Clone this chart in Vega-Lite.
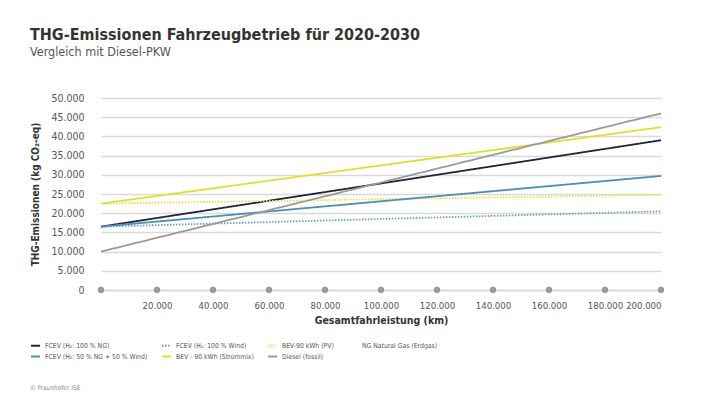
{
  "$schema": "https://vega.github.io/schema/vega-lite/v6.json",
  "width": 560,
  "height": 192,
  "autosize": {"type": "none"},
  "padding": {"left": 101, "top": 98, "right": 59, "bottom": 115},
  "background": "#ffffff",
  "title": {
    "text": "THG-Emissionen Fahrzeugbetrieb für 2020-2030",
    "subtitle": "Vergleich mit Diesel-PKW",
    "anchor": "start",
    "frame": "group",
    "dx": -71,
    "offset": 35,
    "font": "DejaVu Sans Condensed, Roboto, sans-serif",
    "fontSize": 16,
    "fontWeight": "bold",
    "color": "#333333",
    "subtitleFont": "DejaVu Sans Condensed, Roboto, sans-serif",
    "subtitleFontSize": 12.5,
    "subtitleColor": "#555555",
    "subtitlePadding": 3
  },
  "config": {
    "locale": {"number": {"decimal": ",", "thousands": ".", "grouping": [3], "currency": ["", " €"]}},
    "view": {"stroke": null},
    "font": "DejaVu Sans Condensed, Roboto, sans-serif"
  },
  "datasets": {
    "lines": [
      {"series": "FCEV (H₂: 100 % NG)", "km": 0, "co2": 16500},
      {"series": "FCEV (H₂: 100 % NG)", "km": 200000, "co2": 39000},
      {"series": "FCEV (H₂: 100 % Wind)", "km": 0, "co2": 16500},
      {"series": "FCEV (H₂: 100 % Wind)", "km": 200000, "co2": 20500},
      {"series": "BEV-90 kWh (PV)", "km": 0, "co2": 22500},
      {"series": "BEV-90 kWh (PV)", "km": 200000, "co2": 24800},
      {"series": "FCEV (H₂: 50 % NG + 50 % Wind)", "km": 0, "co2": 16500},
      {"series": "FCEV (H₂: 50 % NG + 50 % Wind)", "km": 200000, "co2": 29700},
      {"series": "BEV - 90 kWh (Strommix)", "km": 0, "co2": 22500},
      {"series": "BEV - 90 kWh (Strommix)", "km": 200000, "co2": 42400},
      {"series": "Diesel (fossil)", "km": 0, "co2": 10000},
      {"series": "Diesel (fossil)", "km": 200000, "co2": 46000}
    ],
    "ticks": [
      {"km": 0, "co2": 0}, {"km": 20000, "co2": 0}, {"km": 40000, "co2": 0},
      {"km": 60000, "co2": 0}, {"km": 80000, "co2": 0}, {"km": 100000, "co2": 0},
      {"km": 120000, "co2": 0}, {"km": 140000, "co2": 0}, {"km": 160000, "co2": 0},
      {"km": 180000, "co2": 0}, {"km": 200000, "co2": 0}
    ],
    "note": [{"text": "© Fraunhofer ISE"}]
  },
  "encoding": {
    "x": {
      "field": "km", "type": "quantitative",
      "scale": {"domain": [0, 200000], "nice": false},
      "axis": {
        "values": [0, 20000, 40000, 60000, 80000, 100000, 120000, 140000, 160000, 180000, 200000],
        "format": ",d",
        "labelExpr": "datum.value === 0 ? '' : datum.label",
        "labelOverlap": false,
        "grid": false, "ticks": false,
        "domain": true, "domainColor": "#d9d9d9", "domainWidth": 1.5,
        "labelFontSize": 9.5, "labelColor": "#555555", "labelPadding": 10,
        "title": "Gesamtfahrleistung (km)",
        "titleFontSize": 10.5, "titleFontWeight": "bold", "titleColor": "#333333", "titlePadding": 6
      }
    },
    "y": {
      "field": "co2", "type": "quantitative",
      "scale": {"domain": [0, 50000], "nice": false},
      "axis": {
        "values": [0, 5000, 10000, 15000, 20000, 25000, 30000, 35000, 40000, 45000, 50000],
        "tickCount": 11,
        "format": ",d",
        "labelOverlap": false,
        "grid": true, "gridColor": "#d9d9d9", "gridWidth": 1.5,
        "ticks": false, "domain": false,
        "labelFontSize": 10.5, "labelColor": "#555555", "labelPadding": 17,
        "title": "THG-Emissionen (kg CO₂-eq)",
        "titleFontSize": 10, "titleFontWeight": "bold", "titleColor": "#333333", "titlePadding": 10
      }
    }
  },
  "layer": [
    {
      "data": {"name": "lines"},
      "mark": {"type": "line", "strokeWidth": 1.8},
      "encoding": {
        "color": {
          "field": "series", "type": "nominal",
          "scale": {
            "domain": ["FCEV (H₂: 100 % NG)", "FCEV (H₂: 100 % Wind)", "BEV-90 kWh (PV)", "NG Natural Gas (Erdgas)", "FCEV (H₂: 50 % NG + 50 % Wind)", "BEV - 90 kWh (Strommix)", "Diesel (fossil)"],
            "range": ["#1f2438", "#6f9cb3", "#e3e23f", "rgba(255,255,255,0)", "#4a8fb5", "#e0df30", "#9a9a9a"]
          },
          "legend": {
            "orient": "none", "legendX": -71, "legendY": 242,
            "columns": 4, "direction": "horizontal", "title": null,
            "symbolType": "stroke", "symbolSize": 80, "symbolStrokeWidth": 2,
            "labelFontSize": 6.8, "labelColor": "#555555", "labelOffset": 4,
            "columnPadding": 10, "rowPadding": 1, "labelLimit": 200
          }
        },
        "strokeDash": {
          "field": "series", "type": "nominal",
          "scale": {
            "domain": ["FCEV (H₂: 100 % NG)", "FCEV (H₂: 100 % Wind)", "BEV-90 kWh (PV)", "NG Natural Gas (Erdgas)", "FCEV (H₂: 50 % NG + 50 % Wind)", "BEV - 90 kWh (Strommix)", "Diesel (fossil)"],
            "range": [[1, 0], [1.5, 1.5], [1.5, 1.5], [1, 0], [1, 0], [1, 0], [1, 0]]
          }
        }
      }
    },
    {
      "data": {"name": "ticks"},
      "mark": {"type": "point", "filled": true, "color": "#999999", "size": 40, "opacity": 1}
    },
    {
      "data": {"name": "note"},
      "mark": {"type": "text", "align": "left", "baseline": "middle", "fontSize": 6.5, "color": "#888888"},
      "encoding": {
        "text": {"field": "text"},
        "x": {"value": -71},
        "y": {"value": 290}
      }
    }
  ]
}
